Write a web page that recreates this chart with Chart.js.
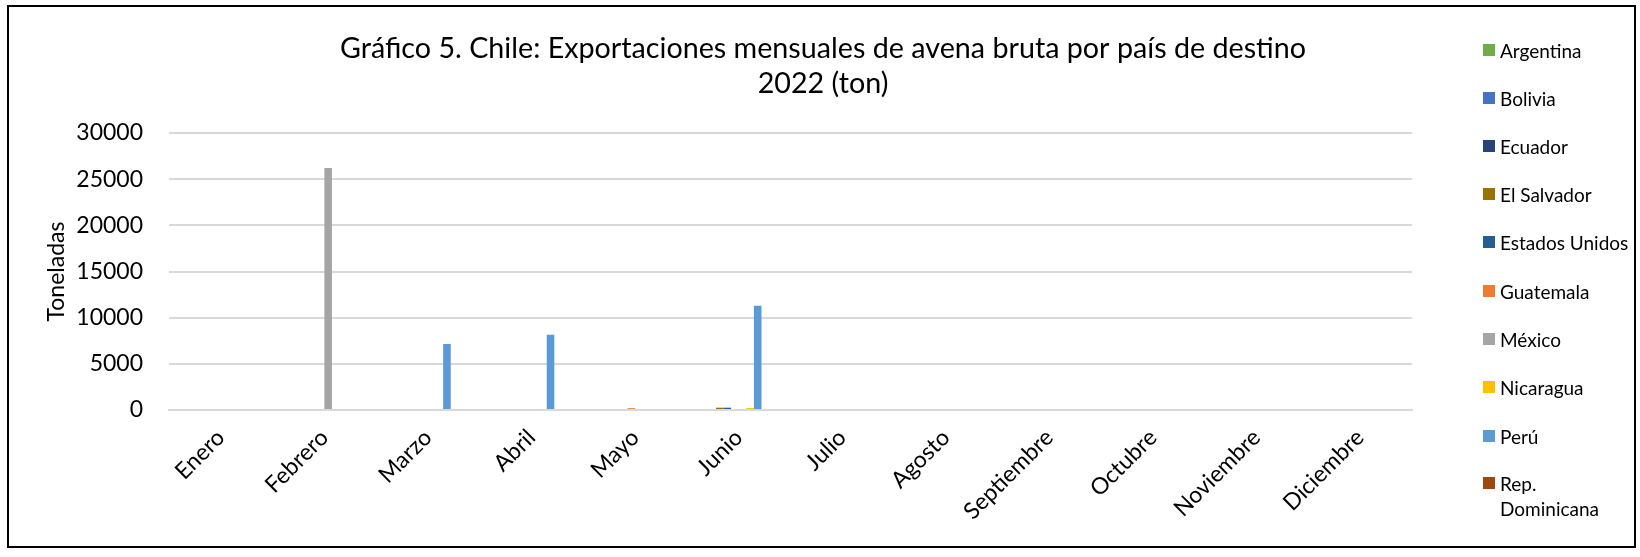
<!DOCTYPE html>
<html>
<head>
<meta charset="utf-8">
<script src="https://cdn.jsdelivr.net/npm/chart.js@4/dist/chart.umd.min.js"></script>
<style>
  body{margin:0;background:#fff;font-family:Lato,"Open Sans",sans-serif;}
  #wrap{position:relative;width:1640px;height:557px;}
  #frame{position:absolute;left:7px;top:5px;width:1625px;height:539px;border:2px solid #000;pointer-events:none;}
  #legend{position:absolute;left:1483px;top:0;font-size:19px;color:#000;}
  .item{position:absolute;left:0;white-space:nowrap;line-height:25px;}
  .item span.box{position:absolute;left:0;width:12px;height:12px;}
  .item span.txt{position:absolute;left:17px;top:0;}
</style>
</head>
<body>
<div id="wrap">
  <canvas id="c" width="1640" height="557"></canvas>
  <div id="frame"></div>
  <div id="legend"></div>
</div>
<script>
// ---------------- DATA ----------------
const meses = ["Enero","Febrero","Marzo","Abril","Mayo","Junio","Julio","Agosto","Septiembre","Octubre","Noviembre","Diciembre"];

const argentina     = [0,0,0,0,0,0,0,0,0,0,0,0];
const bolivia       = [0,0,0,0,0,0,0,0,0,0,0,0];
const ecuador       = [0,0,0,0,0,0,0,0,0,0,0,0];
const elSalvador    = [0,0,0,0,0,250,0,0,0,0,0,0];
const estadosUnidos = [0,0,0,0,0,250,0,0,0,0,0,0];
const guatemala     = [0,0,0,0,200,0,0,0,0,0,0,0];
const mexico        = [0,26200,0,0,0,0,0,0,0,0,0,0];
const nicaragua     = [0,0,0,0,0,220,0,0,0,0,0,0];
const peru          = [0,0,7150,8150,0,11300,0,0,0,0,0,0];
const repDominicana = [0,0,0,0,0,0,0,0,0,0,0,0];
// two more series exist in the source but the legend cuts them off
const serie11       = [0,0,0,0,0,0,0,0,0,0,0,0];
const serie12       = [0,0,0,0,0,0,0,0,0,0,0,0];

const yTicks = [0,5000,10000,15000,20000,25000,30000];

const titulo = ["Gráfico 5. Chile: Exportaciones mensuales de avena bruta por país de destino","2022 (ton)"];

const series = [
    {label:"Argentina",       data:argentina,     color:"#70AD47"},
    {label:"Bolivia",         data:bolivia,       color:"#4472C4"},
    {label:"Ecuador",         data:ecuador,       color:"#264478"},
    {label:"El Salvador",     data:elSalvador,    color:"#997300"},
    {label:"Estados Unidos",  data:estadosUnidos, color:"#255E91"},
    {label:"Guatemala",       data:guatemala,     color:"#ED7D31"},
    {label:"México",          data:mexico,        color:"#A5A5A5"},
    {label:"Nicaragua",       data:nicaragua,     color:"#FFC000"},
    {label:"Perú",            data:peru,          color:"#5B9BD5"},
    {label:"Rep. Dominicana", data:repDominicana, color:"#9E480E"},
    {label:"",                data:serie11,       color:"#636363"},
    {label:"",                data:serie12,       color:"#43682B"}
];

const FONT = "Lato, 'Open Sans', sans-serif";

// title centred over the whole picture, not just the plot
const titlePlugin = {
    id:"tituloCentrado",
    afterDraw(chart){
        const ctx = chart.ctx;
        ctx.save();
        ctx.fillStyle = "#000";
        ctx.font = "28.7px " + FONT;
        ctx.textAlign = "center";
        ctx.textBaseline = "middle";
        ctx.fillText(titulo[0], 823, 49);
        ctx.fillText(titulo[1], 823, 84);
        ctx.restore();
    }
};

// ---------------- CHART ----------------
const chart = new Chart(document.getElementById("c"),{
    type:"bar",
    data:{
        labels:meses,
        datasets:series.map(s=>({
            label:s.label,
            data:s.data,
            backgroundColor:s.color,
            borderWidth:0
        }))
    },
    plugins:[titlePlugin],
    options:{
        responsive:false,
        animation:false,
        categoryPercentage:0.88,
        barPercentage:1.0,
        layout:{padding:{left:0,right:228,top:133,bottom:0}},
        plugins:{
            legend:{display:false},
            tooltip:{enabled:false},
            title:{display:false}
        },
        scales:{
            x:{
                grid:{display:false,drawTicks:false},
                border:{color:"#d9d9d9",width:2},
                ticks:{
                    color:"#000",
                    font:{family:FONT,size:23},
                    minRotation:45,maxRotation:45,
                    padding:14,
                    autoSkip:false
                },
                afterFit(scale){ scale.height = 147; }
            },
            y:{
                min:0,max:30000,
                afterBuildTicks(scale){ scale.ticks = yTicks.map(v=>({value:v})); },
                grid:{color:"#d9d9d9",lineWidth:2,drawTicks:false},
                border:{display:false},
                ticks:{
                    color:"#000",
                    font:{family:FONT,size:23},
                    padding:26,
                    callback:v=>String(v)
                },
                title:{
                    display:true,
                    text:"Toneladas",
                    color:"#000",
                    font:{family:FONT,size:23},
                    padding:{top:43,bottom:0}
                },
                afterFit(scale){ scale.width = 169; }
            }
        }
    }
});

// ---------------- LEGEND ----------------
const legendTops = [38,86,134,182,230,279,327,375,424,471];
const lg = document.getElementById("legend");
chart.data.datasets.forEach((ds,i)=>{
    if(!ds.label) return;
    const it = document.createElement("div");
    it.className = "item";
    it.style.top = legendTops[i]+"px";
    const box = document.createElement("span");
    box.className = "box";
    box.style.background = ds.backgroundColor;
    box.style.top = "6px";
    const txt = document.createElement("span");
    txt.className = "txt";
    if(ds.label==="Rep. Dominicana"){
        txt.innerHTML = "Rep.<br>Dominicana";
    } else {
        txt.textContent = ds.label;
    }
    it.appendChild(box);
    it.appendChild(txt);
    lg.appendChild(it);
});
</script>
</body>
</html>
